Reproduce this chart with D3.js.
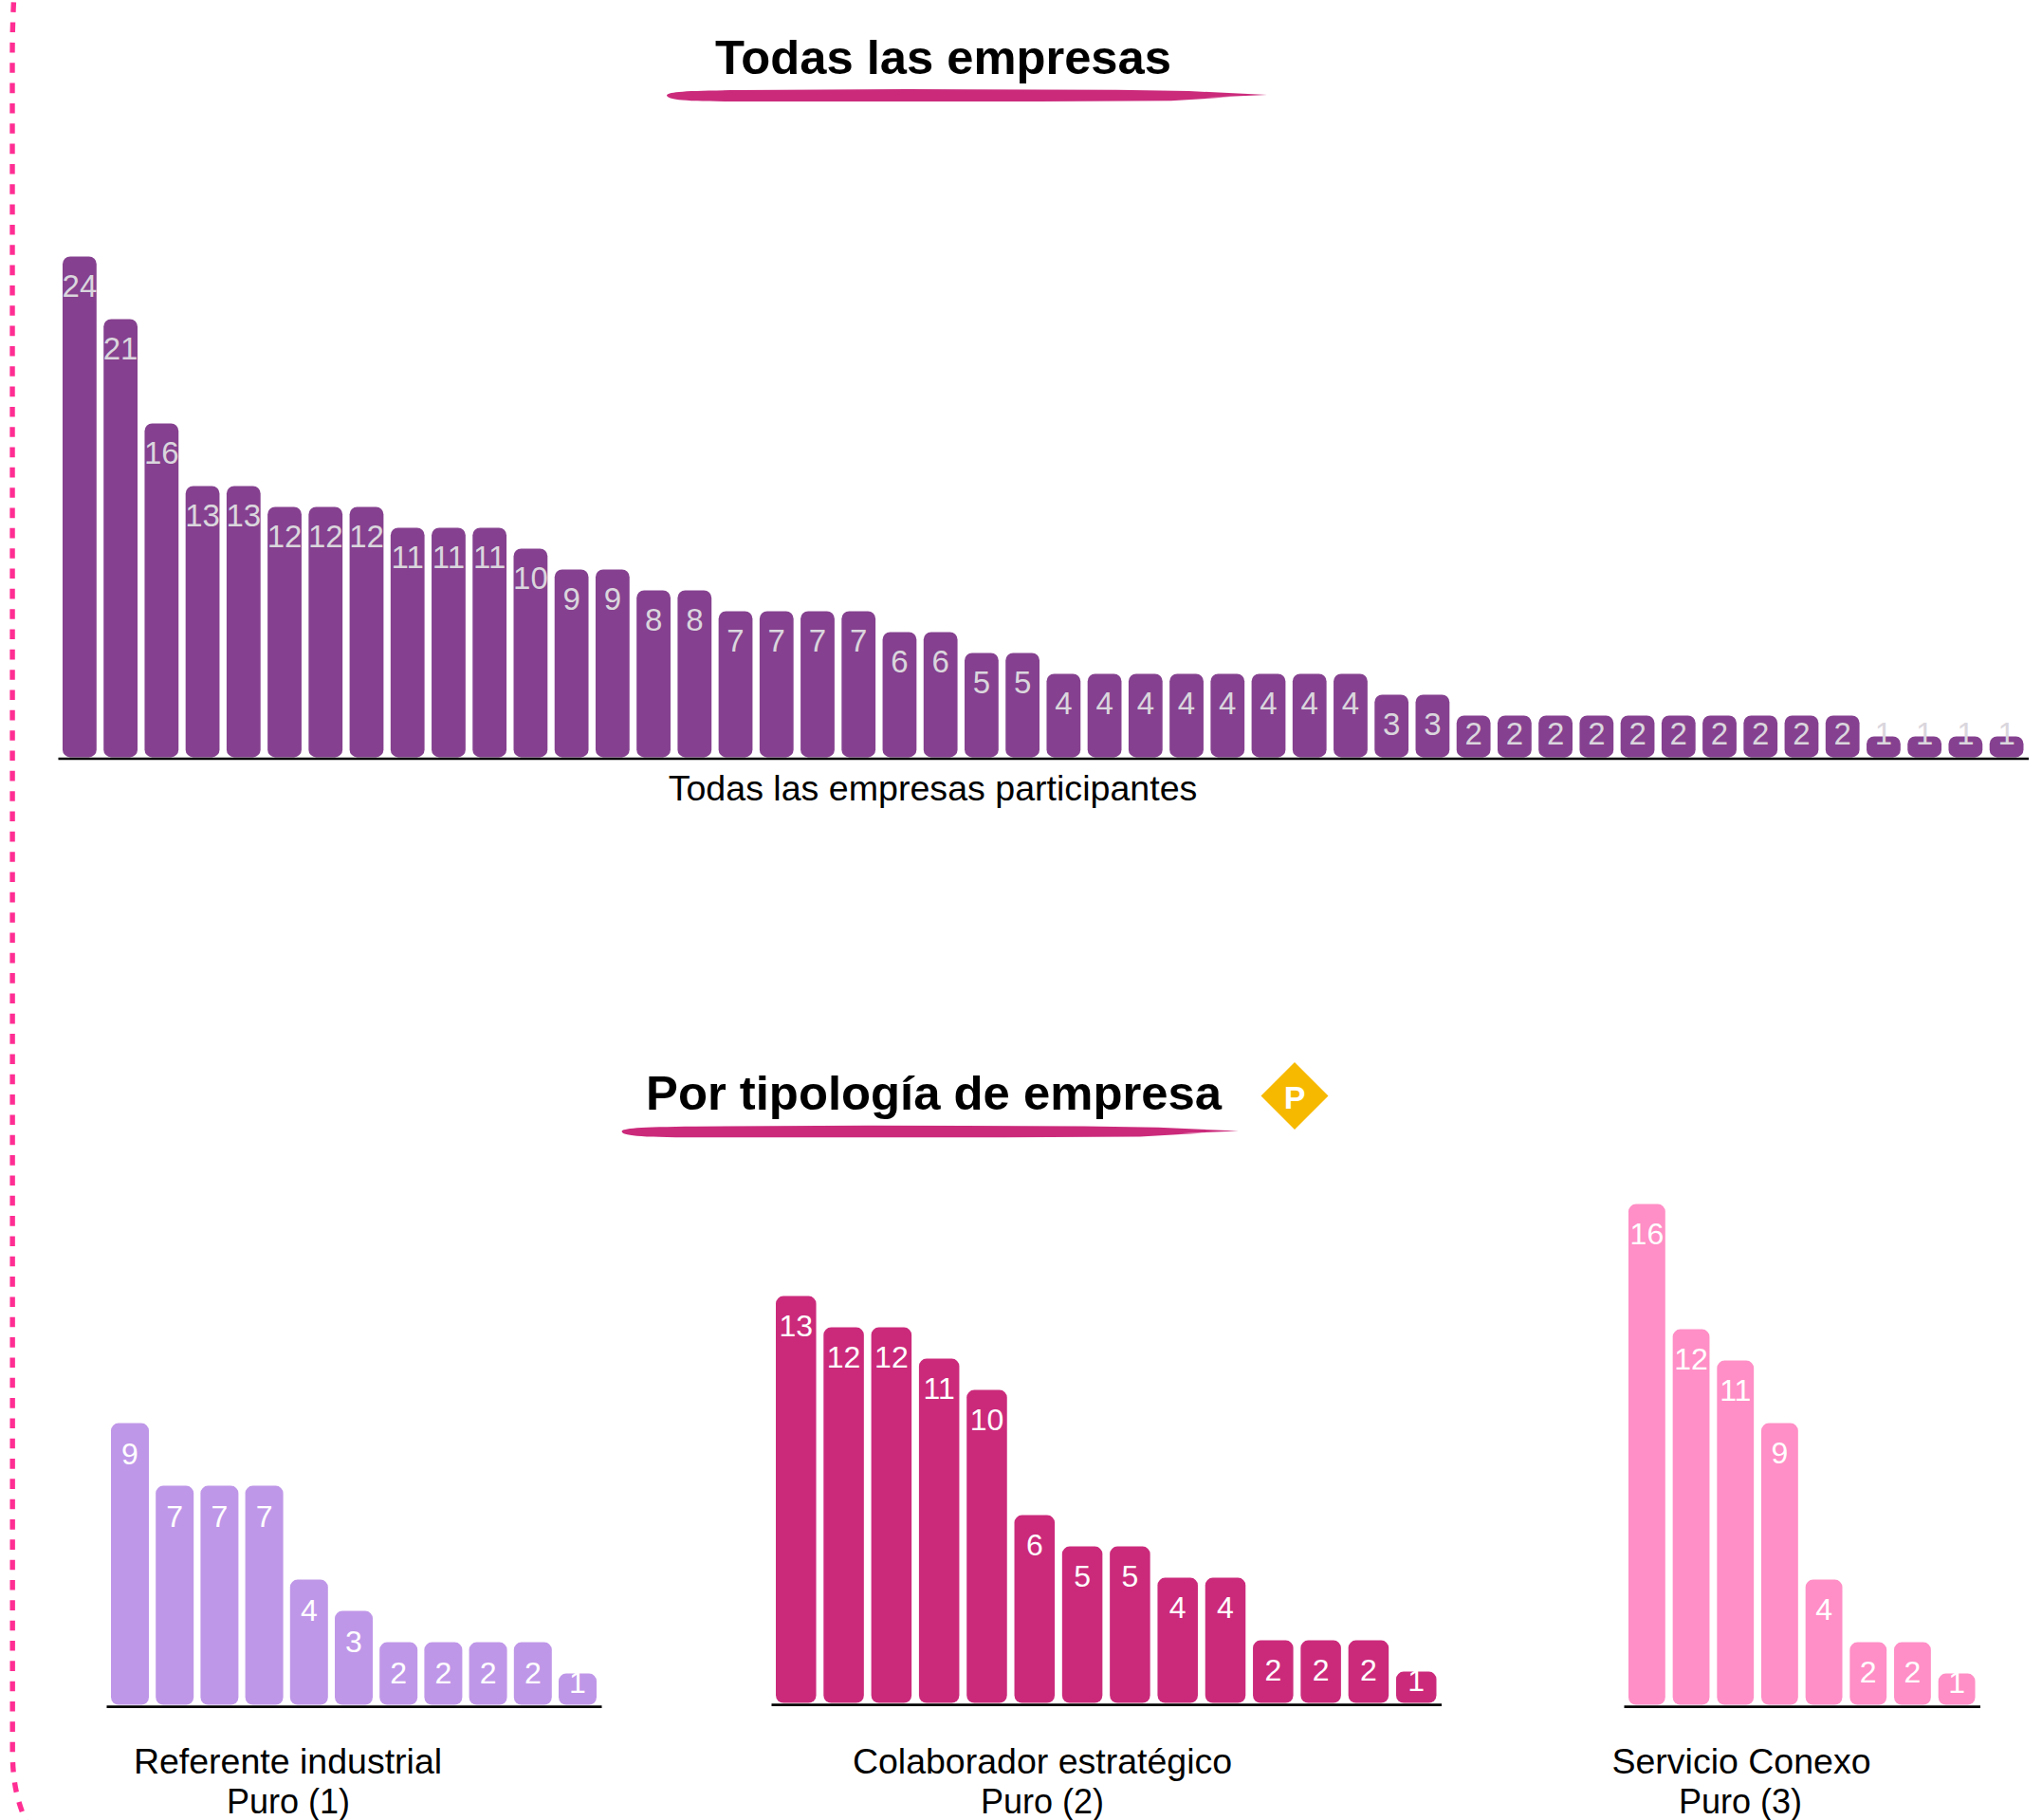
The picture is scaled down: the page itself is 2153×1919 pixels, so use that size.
<!DOCTYPE html>
<html lang="es">
<head>
<meta charset="utf-8">
<title>Todas las empresas</title>
<script src="https://cdn.jsdelivr.net/npm/d3@7/dist/d3.min.js"></script>
<style>
html,body{margin:0;padding:0;background:#fff;}
svg{display:block;font-family:"Liberation Sans",Arial,sans-serif;}
</style>
</head>
<body>
<svg id="chart" width="2153" height="1919" viewBox="0 0 2153 1919"></svg>
<script>
const todasValues = [24,21,16,13,13,12,12,12,11,11,11,10,9,9,8,8,7,7,7,7,6,6,5,5,4,4,4,4,4,4,4,4,3,3,2,2,2,2,2,2,2,2,2,2,1,1,1,1];
const referenteValues = [9,7,7,7,4,3,2,2,2,2,1];
const colaboradorValues = [13,12,12,11,10,6,5,5,4,4,2,2,2,1];
const servicioValues = [16,12,11,9,4,2,2,1];
const titles = ["Todas las empresas","Por tipología de empresa"];
const axisLabels = ["Todas las empresas participantes","Referente industrial","Puro (1)","Colaborador estratégico","Puro (2)","Servicio Conexo","Puro (3)"];

const svg = d3.select("#chart");

function barChart(o){
  const step = o.step;
  const x = d3.scaleBand()
    .domain(d3.range(o.values.length))
    .range([o.x0, o.x1])
    .paddingInner(1 - o.bw / step)
    .paddingOuter(5 / step);
  const y = d3.scaleLinear().domain([0, o.maxV]).range([o.bottom, o.bottom - o.maxV * o.unit]);
  const g = svg.append("g");
  g.selectAll("rect").data(o.values).join("rect")
    .attr("x", (d,i) => x(i))
    .attr("y", d => y(d))
    .attr("width", x.bandwidth())
    .attr("height", d => y(0) - y(d))
    .attr("rx", 8).attr("ry", 8)
    .attr("fill", o.color);
  g.selectAll("text").data(o.values).join("text")
    .attr("x", (d,i) => x(i) + x.bandwidth()/2)
    .attr("y", d => Math.min(y(d) + o.labelDy, o.labelMax))
    .attr("text-anchor","middle")
    .attr("font-size", o.fs)
    .attr("fill", o.labelColor)
    .text(d => d);
  const axis = d3.axisBottom(x).tickSize(0).tickFormat("");
  const ag = g.append("g").attr("transform", `translate(0,${o.axisY - 0.5})`).call(axis);
  ag.select(".domain").attr("stroke","#000").attr("stroke-width",2.6);
  ag.selectAll(".tick").remove();
}

barChart({values:todasValues,x0:61,x1:2138.5,step:43.24,bw:35.8,bottom:798.4,unit:22,maxV:24,
  color:"#85418F",labelColor:"#DAD6DD",fs:33,labelDy:43,labelMax:784.5,axisY:800});
barChart({values:referenteValues,x0:112,x1:634,step:47.2,bw:40,bottom:1797.6,unit:33,maxV:9,
  color:"#BF97E8",labelColor:"#fff",fs:32,labelDy:43,labelMax:1784.5,axisY:1799.6});
barChart({values:colaboradorValues,x0:813,x1:1519.5,step:50.27,bw:42.5,bottom:1795.6,unit:33,maxV:13,
  color:"#CB2A7B",labelColor:"#fff",fs:32,labelDy:42,labelMax:1782.5,axisY:1797.6});
barChart({values:servicioValues,x0:1712,x1:2087.5,step:46.9,bw:39,bottom:1797.6,unit:33,maxV:16,
  color:"#FF8FC6",labelColor:"#fff",fs:32,labelDy:42,labelMax:1784.5,axisY:1799.6});

function label(t,x,y,fs,w){
  svg.append("text").attr("x",x).attr("y",y).attr("text-anchor","middle")
    .attr("font-size",fs).attr("font-weight",w||400).attr("fill","#000").text(t);
}
label(titles[0],994.5,78,50.7,700);
label(titles[1],984.5,1170,50.8,700);
label(axisLabels[0],983.5,844,37.6);
label(axisLabels[1],303.5,1870,37.5);
label(axisLabels[2],304,1912,36);
label(axisLabels[3],1099,1870,37.5);
label(axisLabels[4],1099,1912,36);
label(axisLabels[5],1836,1870,37.5);
label(axisLabels[6],1835,1912,36);

// brush-stroke underline
function brush(xl,xr,yc,h){
  const w = xr - xl, top = yc - h/2, bot = yc + h/2;
  const p = d3.path();
  p.moveTo(xl, yc);
  p.bezierCurveTo(xl+1, top+3, xl+16, top+1.5, xl+0.12*w, top+1);
  p.lineTo(xl+0.4*w, top);
  p.lineTo(xl+0.75*w, top+0.8);
  p.lineTo(xl+0.87*w, top+2);
  p.lineTo(xr, yc-0.5);
  p.lineTo(xl+0.9*w, yc+2.2);
  p.lineTo(xl+0.94*w, yc+1.8);
  p.lineTo(xl+0.84*w, bot-0.8);
  p.lineTo(xl+0.62*w, bot);
  p.lineTo(xl+0.12*w, bot);
  p.bezierCurveTo(xl+16, bot, xl+1, bot-2, xl, yc);
  p.closePath();
  svg.append("path").attr("d",p.toString()).attr("fill","#CB2A7B");
}
brush(703,1336,100.5,13);
brush(655.5,1306,1193,12.5);

// "P" diamond
const diamond = d3.path();
diamond.moveTo(1365,1120); diamond.lineTo(1400.5,1155.5); diamond.lineTo(1365,1191); diamond.lineTo(1329.5,1155.5); diamond.closePath();
svg.append("path").attr("d",diamond.toString()).attr("fill","#F7B900");
svg.append("text").attr("x",1365).attr("y",1169).attr("text-anchor","middle")
  .attr("font-size",34).attr("font-weight",700).attr("fill","#fff").text("P");

// dashed margin line
svg.append("path")
  .attr("d","M14.4,2.3 C13.6,20 13,35 13,60 L13.2,1845 C13.2,1875 17,1900 30,1925")
  .attr("fill","none").attr("stroke","#FF2E93").attr("stroke-width",5.4)
  .attr("stroke-dasharray","10.6 10.73");
</script>
</body>
</html>
